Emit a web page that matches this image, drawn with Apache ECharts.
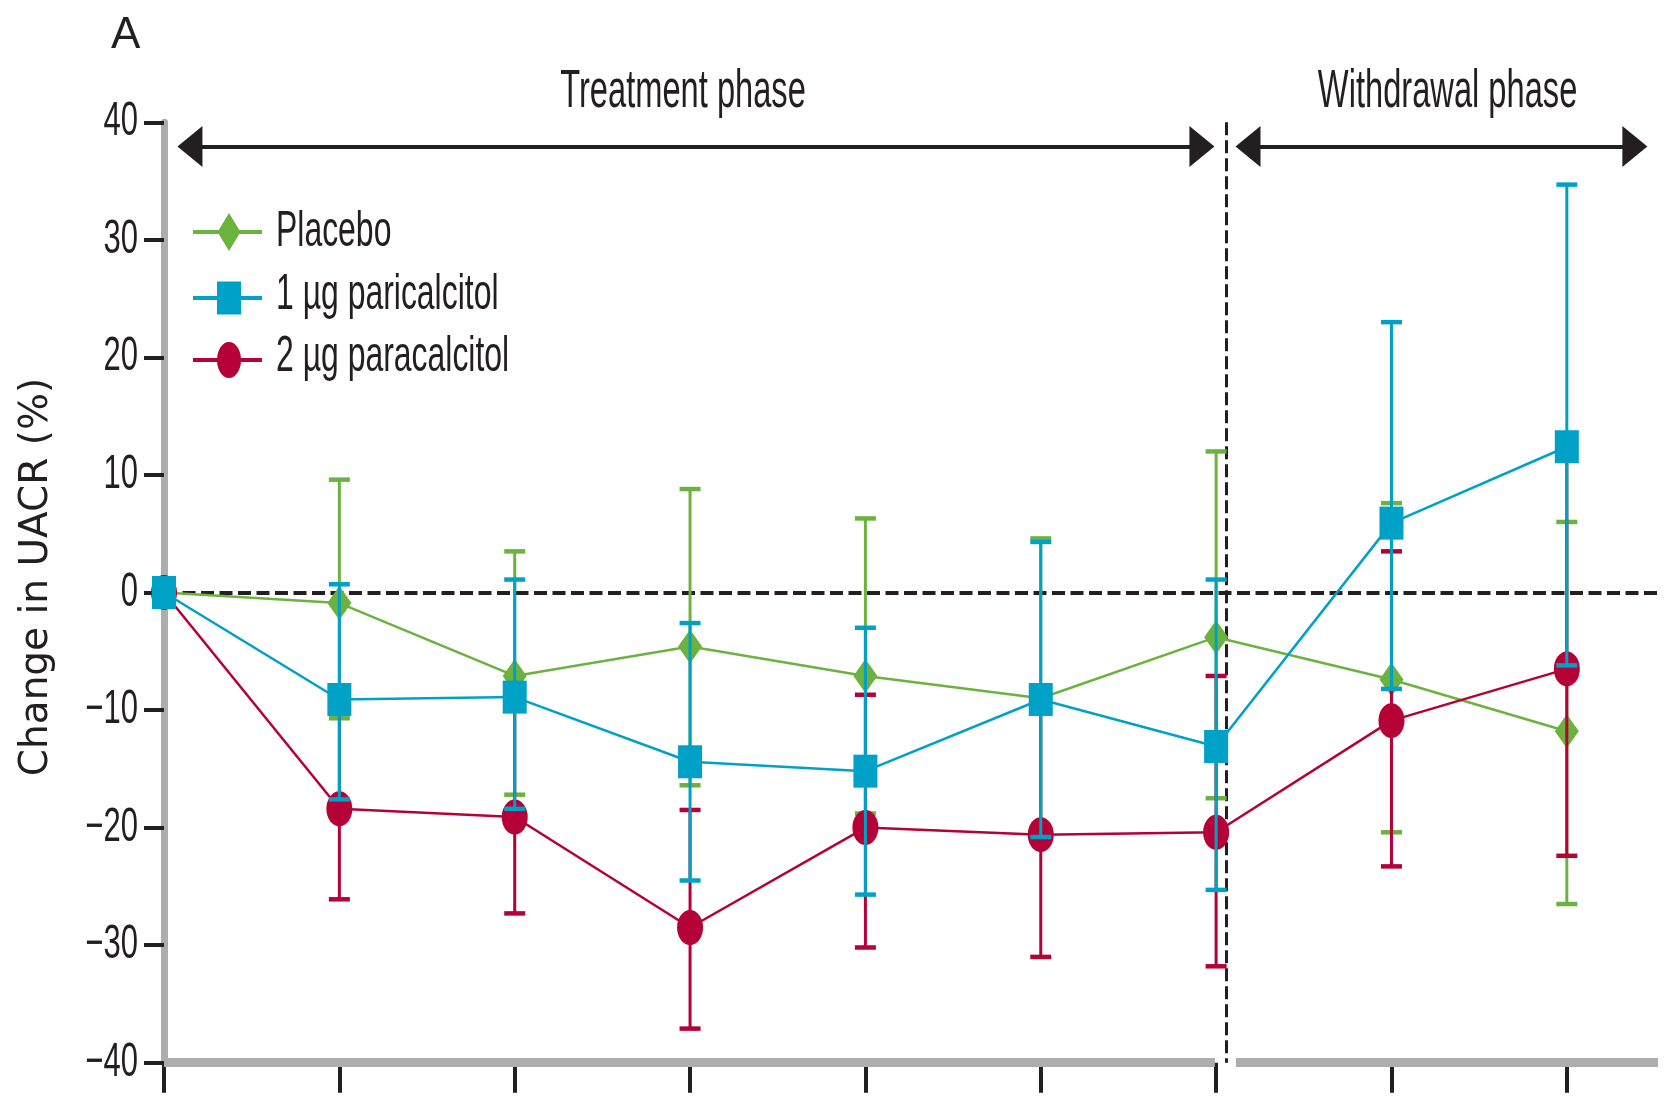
<!DOCTYPE html>
<html>
<head>
<meta charset="utf-8">
<title>Change in UACR</title>
<script src="https://cdn.jsdelivr.net/npm/echarts@6.0.0/dist/echarts.min.js"></script>
<style>
  html, body { margin: 0; padding: 0; background: #ffffff; overflow: hidden; }
  #chart { width: 1668px; height: 1097px; }
</style>
</head>
<body>
<div id="chart"></div>
<script>
// ---- Data -------------------------------------------------------------
// Study visits along the x axis (0 = baseline)
const VISITS = [0, 1, 2, 3, 4, 5, 6, 7, 8];

const SERIES_NAMES = ['Placebo', '1 µg paricalcitol', '2 µg paracalcitol'];

// Mean change in UACR (%) and the lower / upper ends of each error bar
const PLACEBO_MEAN = [0, -0.9, -7.1, -4.6, -7.1, -9.0, -3.8, -7.4, -11.8];
const PLACEBO_LOW  = [null, -10.7, -17.2, -16.4, -18.8, -20.8, -17.5, -20.4, -26.5];
const PLACEBO_HIGH = [null, 9.6, 3.5, 8.8, 6.3, 4.6, 12.0, 7.6, 6.0];

const LOW_DOSE_MEAN = [0, -9.1, -8.9, -14.4, -15.2, -9.1, -13.1, 5.9, 12.4];
const LOW_DOSE_LOW  = [null, -17.6, -18.4, -24.5, -25.7, -20.8, -25.3, -8.2, -6.2];
const LOW_DOSE_HIGH = [null, 0.7, 1.1, -2.6, -3.0, 4.3, 1.1, 23.0, 34.7];

const HIGH_DOSE_MEAN = [0, -18.4, -19.1, -28.5, -20.0, -20.6, -20.4, -10.9, -6.5];
const HIGH_DOSE_LOW  = [null, -26.1, -27.3, -37.1, -30.2, -31.0, -31.8, -23.3, -22.4];
const HIGH_DOSE_HIGH = [null, -9.4, -9.8, -18.5, -8.7, -8.9, -7.1, 3.5, 11.8];

const Y_TICKS = [40, 30, 20, 10, 0, -10, -20, -30, -40];
const Y_TICK_LABELS = ['40', '30', '20', '10', '0', '−10', '−20', '−30', '−40'];

const PANEL_LABEL = 'A';
const Y_AXIS_TITLE = 'Change in UACR (%)';
const PHASE_LABELS = ['Treatment phase', 'Withdrawal phase'];

// ---- Styling and layout ---------------------------------------------------
const INK = '#231f20';
const AXIS_GREY = '#adadad';
const COLORS = ['#6cb23e', '#00a1c7', '#b50038'];
const SYMBOLS = ['diamond', 'rect', 'path://M0 10A10 10 0 1 1 20 10A10 10 0 1 1 0 10Z'];
const SYMBOL_SIZES = [[24, 34], [24, 33], [26, 35]];
// drawing order: placebo lowest, then 2 µg, then 1 µg on top
const LINE_Z = [2, 6, 4];
const BAR_Z = [3, 7, 5];

const X_MAX = 8.52;            // the baseline runs a little past the last visit
const PHASE_BREAK = 6.06;      // dashed divider between the two phases
const ARROW_Y = 37.94;
const TREATMENT_SPAN = [0.148, 5.919];
const WITHDRAWAL_SPAN = [6.182, 8.388];
const BASELINE_GAP = [5.993, 6.113];
const PHASE_LABEL_X = [2.96, 7.32];

const NARROW_FONT = '"Liberation Sans", Arial, sans-serif';

const means = [PLACEBO_MEAN, LOW_DOSE_MEAN, HIGH_DOSE_MEAN];
const lows = [PLACEBO_LOW, LOW_DOSE_LOW, HIGH_DOSE_LOW];
const highs = [PLACEBO_HIGH, LOW_DOSE_HIGH, HIGH_DOSE_HIGH];

function points(ys) {
  return VISITS.map((v, i) => [v, ys[i]]);
}
function intervals(lo, hi) {
  return VISITS.map((v, i) => (lo[i] == null ? null : [v, lo[i], hi[i]])).filter(Boolean);
}

function lineSeries(i) {
  return {
    type: 'line',
    name: SERIES_NAMES[i],
    data: points(means[i]),
    z: LINE_Z[i],
    clip: false,
    silent: true,
    showSymbol: true,
    showAllSymbol: true,
    symbol: SYMBOLS[i],
    symbolSize: SYMBOL_SIZES[i],
    itemStyle: { color: COLORS[i], borderWidth: 0, opacity: 1 },
    lineStyle: { color: COLORS[i], width: 2.5 },
    emphasis: { disabled: true }
  };
}

function errorBarSeries(i) {
  const color = COLORS[i];
  return {
    type: 'custom',
    name: SERIES_NAMES[i] + ' range',
    data: intervals(lows[i], highs[i]),
    encode: { x: 0, y: [1, 2] },
    z: BAR_Z[i],
    silent: true,
    renderItem(params, api) {
      const x = api.value(0);
      const top = api.coord([x, api.value(2)]);
      const bot = api.coord([x, api.value(1)]);
      const capW = 21, capH = 4.5;
      return {
        type: 'group',
        children: [
          { type: 'line', shape: { x1: top[0], y1: top[1], x2: bot[0], y2: bot[1] },
            style: { stroke: color, lineWidth: 3 } },
          { type: 'rect', shape: { x: top[0] - capW / 2, y: top[1] - capH / 2, width: capW, height: capH },
            style: { fill: color } },
          { type: 'rect', shape: { x: bot[0] - capW / 2, y: bot[1] - capH / 2, width: capW, height: capH },
            style: { fill: color } }
        ]
      };
    }
  };
}

const solid = (color, width) => ({ color, width, type: 'solid', opacity: 1 });
const arrowEnd = (x) => ({ coord: [x, ARROW_Y], symbol: 'triangle', symbolSize: [41, 25] });

// Reference lines, the split baseline and the phase arrows
const frameSeries = {
  type: 'line',
  name: 'frame',
  data: [],
  z: 1,
  silent: true,
  clip: false,
  markLine: {
    z: 1,
    silent: true,
    animation: false,
    symbol: ['none', 'none'],
    label: { show: false },
    emphasis: { disabled: true },
    data: [
      [{ coord: [0, 0], lineStyle: { color: INK, width: 4, type: [13, 5.5], opacity: 1 } }, { coord: [X_MAX, 0] }],
      [{ coord: [PHASE_BREAK, 40], lineStyle: { color: INK, width: 3, type: [13, 5], opacity: 1 } }, { coord: [PHASE_BREAK, -40] }],
      [{ coord: [0, -40], lineStyle: solid(AXIS_GREY, 9) }, { coord: [BASELINE_GAP[0], -40] }],
      [{ coord: [BASELINE_GAP[1], -40], lineStyle: solid(AXIS_GREY, 9) }, { coord: [X_MAX, -40] }],
      [Object.assign(arrowEnd(TREATMENT_SPAN[0]), { lineStyle: solid(INK, 4) }), arrowEnd(TREATMENT_SPAN[1])],
      [Object.assign(arrowEnd(WITHDRAWAL_SPAN[0]), { lineStyle: solid(INK, 4) }), arrowEnd(WITHDRAWAL_SPAN[1])]
    ]
  }
};

const option = {
  animation: false,
  backgroundColor: '#ffffff',
  grid: { left: 164, top: 122.3, width: 1494, height: 940.4, containLabel: false },
  xAxis: {
    type: 'value',
    min: 0,
    max: X_MAX,
    interval: 1,
    axisLine: { show: false, onZero: false },
    axisTick: { show: true, length: 30, customValues: VISITS, lineStyle: { color: INK, width: 4 } },
    axisLabel: { show: false },
    splitLine: { show: false }
  },
  yAxis: {
    type: 'value',
    min: -40,
    max: 40,
    interval: 10,
    axisLine: { show: true, onZero: false, lineStyle: { color: AXIS_GREY, width: 7 } },
    axisTick: { show: true, length: 20, lineStyle: { color: INK, width: 4 } },
    axisLabel: { show: false },
    splitLine: { show: false }
  },
  series: [
    frameSeries,
    lineSeries(0), errorBarSeries(0),
    lineSeries(2), errorBarSeries(2),
    lineSeries(1), errorBarSeries(1)
  ]
};

const chart = echarts.init(document.getElementById('chart'), null, { renderer: 'canvas' });
chart.setOption(option);

// ---- Text and legend ------------------------------------------------------
function text(str, x, y, size, sx, sy, align, family, rotation) {
  return {
    type: 'text',
    x, y,
    scaleX: sx, scaleY: sy,
    rotation: rotation || 0,
    silent: true,
    style: {
      text: str,
      font: size + 'px ' + (family || NARROW_FONT),
      fill: INK,
      align, textAlign: align,
      verticalAlign: 'middle', textVerticalAlign: 'middle'
    }
  };
}

const toPx = (x, y) => chart.convertToPixel({ xAxisIndex: 0, yAxisIndex: 0 }, [x, y]);
const graphics = [];

Y_TICKS.forEach((v, i) => {
  const p = toPx(0, v);
  graphics.push(text(Y_TICK_LABELS[i], p[0] - 26, p[1], 31, 1, 1.53, 'right'));
});

graphics.push(text(PANEL_LABEL, 111, 36, 44, 1, 1, 'left'));

PHASE_LABELS.forEach((label, i) => {
  const p = toPx(PHASE_LABEL_X[i], 0);
  graphics.push(text(label, p[0], 92, 32, 1.02, 1.66, 'center'));
});

graphics.push(text(Y_AXIS_TITLE, 37, 577, 39, 1, 1, 'center', '"DejaVu Sans", sans-serif', Math.PI / 2));

// legend: line sample with its marker, then the series name
const LEGEND_ROWS = [232, 298, 360];
const LEGEND_TEXT_ROWS = [232, 295, 357];
const legendMarkers = [
  (y, c) => ({ type: 'polygon', x: 229, y, silent: true,
               shape: { points: [[0, -19], [11.5, 0], [0, 19], [-11.5, 0]] }, style: { fill: c } }),
  (y, c) => ({ type: 'rect', x: 229, y, silent: true,
               shape: { x: -12, y: -16.5, width: 24, height: 33 }, style: { fill: c } }),
  (y, c) => ({ type: 'circle', x: 229, y, scaleX: 1, scaleY: 1.5, silent: true,
               shape: { cx: 0, cy: 0, r: 12 }, style: { fill: c } })
];
SERIES_NAMES.forEach((name, i) => {
  const y = LEGEND_ROWS[i];
  graphics.push({ type: 'line', silent: true, shape: { x1: 193, y1: y, x2: 262, y2: y },
                  style: { stroke: COLORS[i], lineWidth: 4 } });
  graphics.push(legendMarkers[i](y, COLORS[i]));
  graphics.push(text(name, 276, LEGEND_TEXT_ROWS[i], 31, 1.03, 1.64, 'left'));
});

chart.setOption({ graphic: { elements: graphics } });
</script>
</body>
</html>
